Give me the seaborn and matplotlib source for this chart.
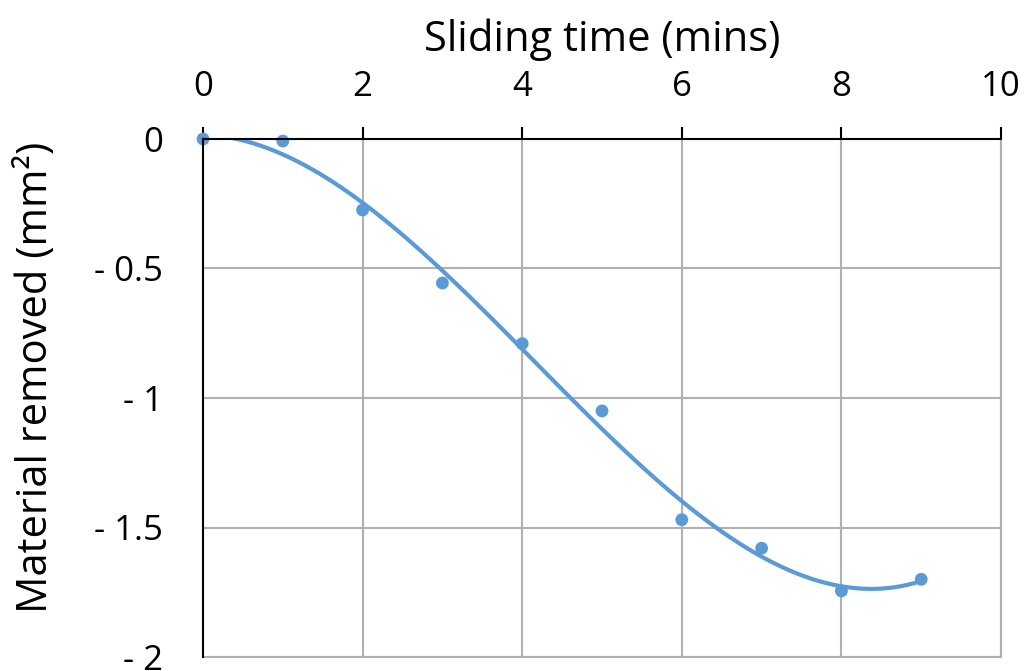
import numpy as np
import pandas as pd
import matplotlib
matplotlib.use("Agg")
import matplotlib.pyplot as plt
import seaborn as sns
from matplotlib.ticker import FuncFormatter, MultipleLocator

time_min = [0, 1, 2, 3, 4, 5, 6, 7, 8, 9]
material_removed = [0.0, -0.008, -0.274, -0.556, -0.79, -1.05, -1.47, -1.58, -1.745, -1.70]

sns.set_style("white")
plt.rcParams['font.family'] = ['Open Sans', 'DejaVu Sans']
plt.rcParams['text.color'] = 'black'
plt.rcParams['axes.labelcolor'] = 'black'
plt.rcParams['xtick.color'] = 'black'
plt.rcParams['ytick.color'] = 'black'

df = pd.DataFrame({"t": time_min, "m": material_removed})

fig = plt.figure(figsize=(10.31, 6.71), dpi=100)
ax = fig.add_axes([203/1031, 1-657/671, (1001-203)/1031, (657-139)/671])

blue = "#5B9BD5"
sns.regplot(data=df, x="t", y="m", order=3, ci=None, ax=ax,
            scatter_kws=dict(s=85, color=blue, alpha=1, edgecolor="none", zorder=4, clip_on=False),
            line_kws=dict(color=blue, lw=3.0, zorder=3))

ax.set_xlim(0, 10)
ax.set_ylim(-2, 0)
ax.xaxis.set_major_locator(MultipleLocator(2))
ax.yaxis.set_major_locator(MultipleLocator(0.5))

def yfmt(v, pos):
    if abs(v) < 1e-9:
        return "0"
    return "- " + ("%g" % abs(v))
ax.yaxis.set_major_formatter(FuncFormatter(yfmt))

ax.xaxis.tick_top()
ax.xaxis.set_label_position("top")
ax.set_xlabel("Sliding time (mins)", fontsize=30, labelpad=14)
ax.set_ylabel("Material removed (mm²)", fontsize=30)
ax.yaxis.set_label_coords(-0.183, 0.54)

ax.tick_params(axis="both", labelsize=25, width=1.5, length=9, color="black", direction="out")
ax.tick_params(axis="x", pad=16)
ax.tick_params(axis="y", pad=20)

ax.grid(True, color="#B0B0B0", lw=1.5)
ax.set_axisbelow(True)
for s in ["right", "bottom"]:
    ax.spines[s].set_color("#B0B0B0")
    ax.spines[s].set_linewidth(1.5)
for s in ["left", "top"]:
    ax.spines[s].set_color("black")
    ax.spines[s].set_linewidth(1.5)
    ax.spines[s].set_zorder(5)

fig.savefig("out.png", dpi=100)
